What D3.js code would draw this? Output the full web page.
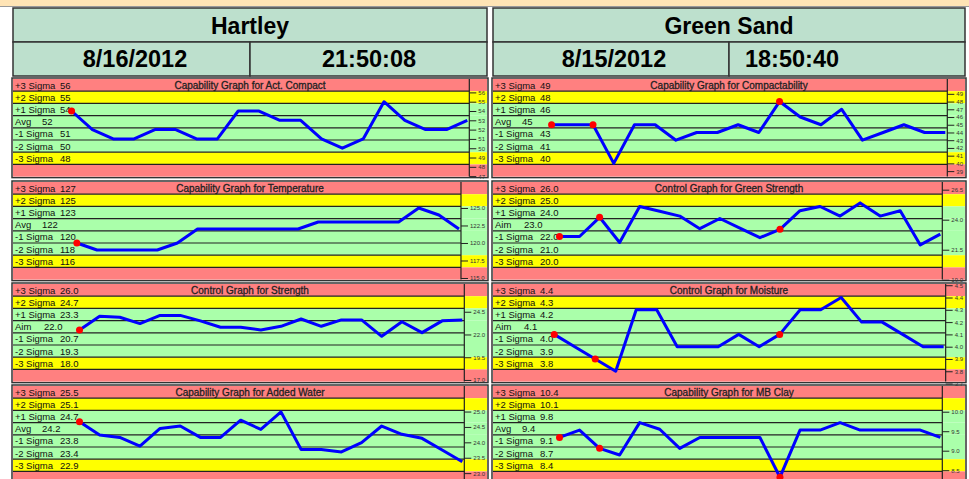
<!DOCTYPE html>
<html>
<head>
<meta charset="utf-8">
<script src="https://cdn.jsdelivr.net/npm/d3@7"></script>
<style>
  body { margin: 0; background: #fff; }
  svg { display: block; font-family: Arial, "Liberation Sans", sans-serif; }
</style>
</head>
<body>
<div id="chart"></div>
<script>
// header
const plants = ["Hartley", "Green Sand"];
const dates = ["8/16/2012", "8/15/2012"];
const times = ["21:50:08", "18:50:40"];

const sigmaNames = ["+3 Sigma", "+2 Sigma", "+1 Sigma", "", "-1 Sigma", "-2 Sigma", "-3 Sigma"];

// Hartley
const actCompact = [54, 52, 51, 51, 52, 52, 51, 51, 54, 54, 53, 53, 51, 50, 51, 55, 53, 52, 52, 53];
const actCompactLimits = ["56", "55", "54", "52", "51", "50", "48"];
const actCompactTicks = [56, 55, 54, 53, 52, 51, 50, 49, 48, 47];
const actCompactDomain = [46.95, 57.44];

const temperature = [120, 119, 119, 119, 119, 120, 122, 122, 122, 122, 122, 122, 123, 123, 123, 123, 123, 125, 124, 122];
const temperatureLimits = ["127", "125", "123", "122", "120", "118", "116"];
const temperatureTicks = [125, 122.5, 120, 117.5, 115];
const temperatureDomain = [114.77, 128.71];

const strength = [22.5, 24.0, 23.9, 23.2, 24.1, 24.1, 23.5, 22.8, 22.8, 22.5, 22.9, 23.7, 22.9, 23.6, 23.6, 21.8, 23.4, 22.2, 23.5, 23.6];
const strengthLimits = ["26.0", "24.7", "23.3", "22.0", "20.7", "19.3", "18.0"];
const strengthTicks = [24.5, 22, 19.5, 17];
const strengthDomain = [16.82, 27.55];

const addedWater = [24.67, 24.24, 24.16, 23.88, 24.45, 24.53, 24.16, 24.16, 24.72, 24.42, 24.99, 23.77, 23.77, 23.69, 23.99, 24.53, 24.26, 24.13, 23.75, 23.37];
const addedWaterLimits = ["25.5", "25.1", "24.7", "24.2", "23.8", "23.4", "22.9"];
const addedWaterTicks = [25, 24.5, 24, 23.5, 23];
const addedWaterDomain = [22.66, 25.83];

// Green Sand
const compactability = [45, 45, 45, 40, 45, 45, 43, 44, 44, 45, 44, 48, 46, 45, 47, 43, 44, 45, 44, 44];
const compactabilityLimits = ["49", "48", "46", "45", "43", "41", "40"];
const compactabilityTicks = [49, 48, 47, 46, 45, 44, 43, 42, 41, 40, 39];
const compactabilityDomain = [38.29, 50.92];

const greenStrength = [22.6, 22.6, 24.2, 22.1, 25.1, 24.7, 24.3, 23.25, 24.1, 23.3, 22.5, 23.2, 24.75, 25.1, 24.3, 25.4, 24.3, 24.75, 21.9, 22.8];
const greenStrengthLimits = ["26.0", "25.0", "24.0", "23.0", "22.0", "21.0", "20.0"];
const greenStrengthTicks = [26.5, 24, 21.5, 19];
const greenStrengthDomain = [19.01, 27.14];

const moisture = [4.1, 4.0, 3.9, 3.8, 4.3, 4.3, 4.0, 4.0, 4.0, 4.1, 4.0, 4.1, 4.3, 4.3, 4.4, 4.2, 4.2, 4.1, 4.0, 4.0];
const moistureLimits = ["4.4", "4.3", "4.2", "4.1", "4.0", "3.9", "3.8"];
const moistureTicks = [4.5, 4.4, 4.3, 4.2, 4.1, 4.0, 3.9, 3.8, 3.7];
const moistureDomain = [3.716, 4.51];

const mbClay = [9.34, 9.53, 9.06, 8.89, 9.72, 9.55, 9.06, 9.34, 9.34, 9.34, 9.34, 8.32, 9.53, 9.53, 9.72, 9.53, 9.53, 9.53, 9.53, 9.34];
const mbClayLimits = ["10.4", "10.1", "9.8", "9.4", "9.1", "8.7", "8.4"];
const mbClayTicks = [10, 9.5, 9, 8.5];
const mbClayDomain = [8.156, 10.66];

// flagged points (red markers)
const hartleyFlags = [0];
const greenSandFlags = [0, 2, 11];

const charts = [
  {plant: 0, row: 0, title: "Capability Graph for Act. Compact", center: "Avg", values: actCompact, limits: actCompactLimits, ticks: actCompactTicks, domain: actCompactDomain, flags: hartleyFlags, fmt: "d"},
  {plant: 0, row: 1, title: "Capability Graph for Temperature", center: "Avg", values: temperature, limits: temperatureLimits, ticks: temperatureTicks, domain: temperatureDomain, flags: hartleyFlags, fmt: ".1f"},
  {plant: 0, row: 2, title: "Control Graph for Strength", center: "Aim", values: strength, limits: strengthLimits, ticks: strengthTicks, domain: strengthDomain, flags: hartleyFlags, fmt: ".1f"},
  {plant: 0, row: 3, title: "Capability Graph for Added Water", center: "Avg", values: addedWater, limits: addedWaterLimits, ticks: addedWaterTicks, domain: addedWaterDomain, flags: hartleyFlags, fmt: ".1f"},
  {plant: 1, row: 0, title: "Capability Graph for Compactability", center: "Avg", values: compactability, limits: compactabilityLimits, ticks: compactabilityTicks, domain: compactabilityDomain, flags: greenSandFlags, fmt: "d"},
  {plant: 1, row: 1, title: "Control Graph for Green Strength", center: "Aim", values: greenStrength, limits: greenStrengthLimits, ticks: greenStrengthTicks, domain: greenStrengthDomain, flags: greenSandFlags, fmt: ".1f"},
  {plant: 1, row: 2, title: "Control Graph for Moisture", center: "Aim", values: moisture, limits: moistureLimits, ticks: moistureTicks, domain: moistureDomain, flags: greenSandFlags, fmt: ".1f"},
  {plant: 1, row: 3, title: "Capability Graph for MB Clay", center: "Avg", values: mbClay, limits: mbClayLimits, ticks: mbClayTicks, domain: mbClayDomain, flags: greenSandFlags, fmt: ".1f"}
];

const width = 969, height = 479;
const panelX = [[13, 487], [493, 965]];
// date / time text centres inside each header
const stampX = [[135, 369], [614, 792]];
const rowTop = [79, 182, 284, 386];
const bandH = 12.2;
const bandColors = ["#ff8080", "#ffff00", "#aaffaa", "#aaffaa", "#aaffaa", "#aaffaa", "#ffff00", "#ff8080"];
const headerFill = "#bde0cd";

const svg = d3.select("#chart").append("svg")
  .attr("width", width)
  .attr("height", height);

svg.append("rect")
  .attr("width", width)
  .attr("height", 6)
  .attr("fill", "#ffe4b5");

svg.append("line")
  .attr("x1", 0).attr("x2", width)
  .attr("y1", 6.5).attr("y2", 6.5)
  .style("stroke", "#999");

// headers
panelX.forEach(([x0, x1], i) => {
  const g = svg.append("g").attr("class", "header");
  const mid = (x0 + x1) / 2;

  g.append("rect")
    .attr("x", x0).attr("y", 8)
    .attr("width", x1 - x0).attr("height", 34)
    .attr("fill", headerFill)
    .style("stroke", "#333").style("stroke-width", 1.5);

  g.selectAll(".cell")
    .data([[x0, mid], [mid, x1]])
    .enter().append("rect")
    .attr("class", "cell")
    .attr("x", d => d[0]).attr("y", 42)
    .attr("width", d => d[1] - d[0]).attr("height", 34)
    .attr("fill", headerFill)
    .style("stroke", "#333").style("stroke-width", 1.5);

  g.append("text")
    .attr("x", mid).attr("y", 34)
    .attr("text-anchor", "middle")
    .style("font-size", "23px").style("font-weight", "bold")
    .text(plants[i]);

  g.selectAll(".stamp")
    .data([dates[i], times[i]])
    .enter().append("text")
    .attr("class", "stamp")
    .attr("x", (d, j) => stampX[i][j])
    .attr("y", 67)
    .attr("text-anchor", "middle")
    .style("font-size", "23.5px").style("font-weight", "bold")
    .text(d => d);
});

const drawChart = c => {
  const [x0, x1] = panelX[c.plant];
  const top = rowTop[c.row];
  const bottom = top + bandH * 8;
  const g = svg.append("g").attr("class", "chart");

  // outer frame
  g.append("rect")
    .attr("x", x0 - 1).attr("y", top - 1)
    .attr("width", x1 - x0 + 2).attr("height", bottom - top + 2)
    .attr("fill", "none")
    .style("stroke", "#333").style("stroke-width", 1.5);

  g.selectAll(".band")
    .data(bandColors)
    .enter().append("rect")
    .attr("class", "band")
    .attr("x", x0).attr("y", (d, i) => top + i * bandH)
    .attr("width", x1 - x0).attr("height", bandH)
    .attr("fill", d => d);

  // right axis column width from its widest label
  const fmt = d3.format(c.fmt);
  const probe = g.append("text").style("font-size", "6px");
  const labW = d3.max(c.ticks, t => probe.text(fmt(t)).node().getComputedTextLength());
  probe.remove();
  const plotR = x1 - (labW + 11);

  const y = d3.scaleLinear()
    .domain(c.domain)
    .range([bottom, top]);

  g.selectAll(".limit")
    .data(d3.range(1, 8))
    .enter().append("line")
    .attr("class", "limit")
    .attr("x1", x0).attr("x2", plotR)
    .attr("y1", d => top + d * bandH).attr("y2", d => top + d * bandH)
    .style("stroke", "#222").style("stroke-width", 1.2);

  g.append("line")
    .attr("x1", plotR).attr("x2", plotR)
    .attr("y1", top).attr("y2", bottom)
    .style("stroke", "#222").style("stroke-width", 1.2);

  const labels = g.append("g").attr("class", "labels")
    .style("font-size", "9.5px").style("fill", "#111");

  labels.selectAll(".name")
    .data(c.limits)
    .enter().append("text")
    .attr("class", "name")
    .attr("x", x0 + 2)
    .attr("y", (d, i) => top + i * bandH + 9.6)
    .text((d, i) => i === 3 ? c.center : sigmaNames[i]);

  const vals = labels.selectAll(".val")
    .data(c.limits)
    .enter().append("text")
    .attr("class", "val")
    .attr("x", (d, i) => i === 3 ? x0 + (c.center === "Aim" ? 31 : 29) : x0 + 47)
    .attr("y", (d, i) => top + i * bandH + 9.6)
    .text(d => d);

  g.append("text")
    .attr("x", (x0 + x1) / 2)
    .attr("y", top + 9.5)
    .attr("text-anchor", "middle")
    .style("font-size", "10px").style("fill", "#222")
    .style("stroke", "#222").style("stroke-width", 0.3)
    .text(c.title);

  const yAxis = d3.axisRight(y)
    .tickValues(c.ticks)
    .tickSize(7)
    .tickPadding(2)
    .tickFormat(fmt);

  const ax = g.append("g")
    .attr("class", "y axis")
    .attr("transform", "translate(" + plotR + ",0)")
    .call(yAxis);
  ax.select(".domain").remove();
  ax.selectAll("line").style("stroke", "#222");
  ax.selectAll("text").style("font-size", "6px").style("fill", "#333");

  // data starts right after the limit labels
  const startX = d3.max(vals.nodes(), n => n.getBBox().x + n.getBBox().width) + 1;
  const x = d3.scalePoint()
    .domain(d3.range(c.values.length))
    .range([startX, plotR - 2]);

  const clip = "clip" + c.plant + c.row;
  g.append("clipPath").attr("id", clip)
    .append("rect")
    .attr("x", x0).attr("y", top - 4)
    .attr("width", plotR - x0 + 4).attr("height", bottom - top + 8);

  const line = d3.line()
    .x((d, i) => x(i))
    .y(d => y(d));

  g.append("path")
    .datum(c.values)
    .attr("clip-path", "url(#" + clip + ")")
    .attr("d", line)
    .style("fill", "none")
    .style("stroke", "#0000ff")
    .style("stroke-width", 3)
    .style("stroke-linejoin", "round");

  g.selectAll(".flag")
    .data(c.flags)
    .enter().append("circle")
    .attr("class", "flag")
    .attr("cx", d => x(d))
    .attr("cy", d => y(c.values[d]))
    .attr("r", 3.5)
    .style("fill", "#ff0000");
};

charts.forEach(drawChart);
</script>
</body>
</html>
